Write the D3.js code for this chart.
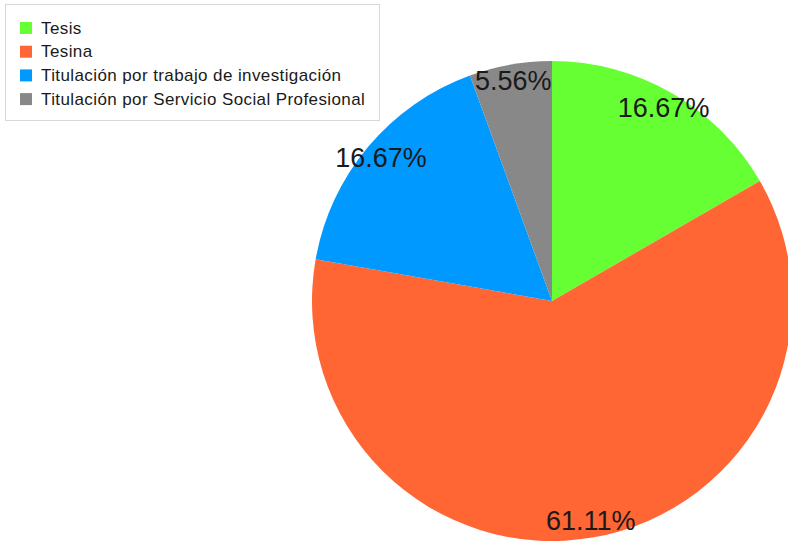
<!DOCTYPE html>
<html>
<head>
<meta charset="utf-8">
<script src="https://cdn.jsdelivr.net/npm/d3@7"></script>
<style>
  body { margin: 0; background: #fff; }
  svg { display: block; font-family: "Liberation Sans", Arial, sans-serif; }
</style>
</head>
<body>
<div id="chart"></div>
<script>
const categories = [
  "Tesis",
  "Tesina",
  "Titulación por trabajo de investigación",
  "Titulación por Servicio Social Profesional"
]
const counts = [3, 11, 3, 1]
const colors = ["#66ff33", "#ff6633", "#0099ff", "#888888"]

const dataset = categories.map((c, i) => ({ name: c, value: counts[i], color: colors[i] }))

const width = 788
const height = 543
const radius = 240
const center = { x: 552, y: 301 }

const svg = d3.select("#chart")
  .append("svg")
    .attr("width", width)
    .attr("height", height)

const total = d3.sum(counts)

const pie = d3.pie()
  .value(d => d.value)
  .sort(null)

const arc = d3.arc()
  .innerRadius(0)
  .outerRadius(radius)

const labelArc = d3.arc()
  .innerRadius(radius * 0.93)
  .outerRadius(radius * 0.93)

const bounds = svg.append("g")
    .attr("transform", `translate(${center.x}, ${center.y})`)

const slices = pie(dataset)

bounds.selectAll("path")
  .data(slices)
  .enter().append("path")
    .attr("d", arc)
    .attr("fill", d => d.data.color)

bounds.selectAll("text")
  .data(slices)
  .enter().append("text")
    .attr("transform", d => `translate(${labelArc.centroid(d)})`)
    .attr("text-anchor", "middle")
    .attr("dominant-baseline", "central")
    .attr("font-size", 27)
    .attr("fill", "#1a1a1a")
    .text(d => (d.data.value / total * 100).toFixed(2) + "%")

// legend
const legend = svg.append("g")

legend.append("rect")
    .attr("x", 5.5)
    .attr("y", 4.5)
    .attr("width", 374)
    .attr("height", 116)
    .attr("fill", "#fff")
    .attr("stroke", "#d8d8d8")

const items = legend.selectAll("g.item")
  .data(dataset)
  .enter().append("g")
    .attr("class", "item")
    .attr("transform", (d, i) => `translate(20, ${28 + i * 23.7})`)

items.append("rect")
    .attr("x", 0)
    .attr("y", -6)
    .attr("width", 12)
    .attr("height", 12)
    .attr("fill", d => d.color)

items.append("text")
    .attr("x", 21)
    .attr("dominant-baseline", "central")
    .attr("font-size", 17)
    .attr("letter-spacing", 0.4)
    .attr("fill", "#1a1a1a")
    .text(d => d.name)
</script>
</body>
</html>
